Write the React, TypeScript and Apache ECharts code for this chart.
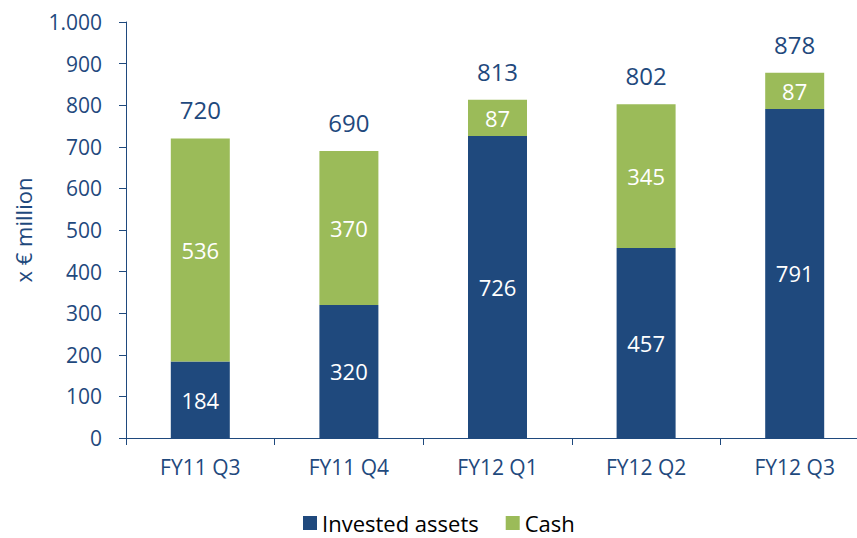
import React, { useEffect, useRef } from "react";
import * as echarts from "echarts";

const categories = ["FY11 Q3", "FY11 Q4", "FY12 Q1", "FY12 Q2", "FY12 Q3"];
const investedAssets = [184, 320, 726, 457, 791];
const cash = [536, 370, 87, 345, 87];
const totals = [720, 690, 813, 802, 878];

const BLUE = "#1F497D";
const GREEN = "#9BBB59";
const TEXT = "#1F497D";
const FONT = "Open Sans";

export default function App() {
  const ref = useRef<HTMLDivElement>(null);
  useEffect(() => {
    if (!ref.current) return;
    const chart = echarts.init(ref.current, undefined, { renderer: "svg" });
    chart.setOption({
      animation: false,
      textStyle: { fontFamily: FONT },
      grid: { left: 126, width: 743, top: 22, bottom: 100, outerBoundsMode: "none", containLabel: false },
      legend: {
        top: 511,
        left: 303,
        itemWidth: 14,
        itemHeight: 14,
        itemGap: 27,
        padding: 0,
        icon: "rect",
        textStyle: { color: "#000", fontSize: 22, lineHeight: 24, fontFamily: FONT },
        data: ["Invested assets", "Cash"],
      },
      xAxis: {
        type: "category",
        data: categories,
        axisLine: { lineStyle: { color: BLUE, width: 1 } },
        axisTick: { show: true, length: 7, lineStyle: { color: BLUE } },
        axisLabel: { color: TEXT, fontSize: 21, margin: 18, fontFamily: FONT },
      },
      yAxis: {
        type: "value",
        min: 0,
        max: 1000,
        interval: 100,
        name: "x € million",
        nameLocation: "middle",
        nameGap: 92,
        nameTextStyle: { color: TEXT, fontSize: 22, fontFamily: FONT },
        splitLine: { show: false },
        axisLine: { show: true, lineStyle: { color: BLUE, width: 1 } },
        axisTick: { show: true, length: 7, lineStyle: { color: BLUE } },
        axisLabel: {
          color: TEXT,
          fontSize: 21,
          margin: 24,
          fontFamily: FONT,
          formatter: (v: number) =>
            v >= 1000 ? Math.floor(v / 1000) + "." + String(v % 1000).padStart(3, "0") : String(v),
        },
      },
      series: [
        {
          name: "Invested assets",
          type: "bar",
          stack: "total",
          barWidth: 59,
          data: investedAssets,
          itemStyle: { color: BLUE },
          label: { show: true, position: "inside", color: "#fff", fontSize: 22, fontFamily: FONT },
        },
        {
          name: "Cash",
          type: "bar",
          stack: "total",
          barWidth: 59,
          data: cash,
          itemStyle: { color: GREEN },
          label: { show: true, position: "inside", color: "#fff", fontSize: 22, fontFamily: FONT },
        },
        {
          name: "Total",
          type: "line",
          data: totals,
          symbol: "circle",
          symbolSize: 1,
          itemStyle: { color: "rgba(0,0,0,0)" },
          lineStyle: { opacity: 0 },
          silent: true,
          label: {
            show: true,
            position: "top",
            distance: 16,
            color: TEXT,
            fontSize: 24,
            fontFamily: FONT,
          },
        },
      ],
    });
    return () => chart.dispose();
  }, []);
  return (
    <div
      ref={ref}
      style={{ position: "absolute", left: 0, top: 0, width: 857, height: 538, overflow: "hidden" }}
    />
  );
}
